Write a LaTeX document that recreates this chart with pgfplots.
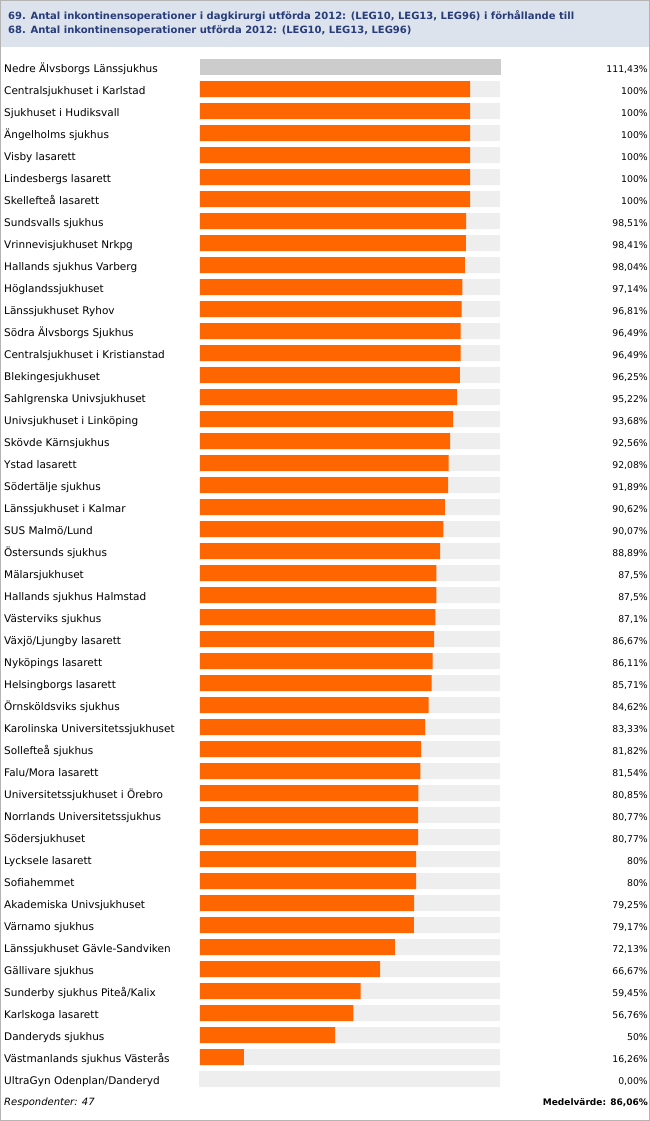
\documentclass[border=0pt]{standalone}
\usepackage{pgfplots}
\pgfplotsset{compat=1.18}
\usepackage{fontspec}
\setmainfont{DejaVu Sans}
\definecolor{hdr}{HTML}{DCE3ED}
\definecolor{ttl}{HTML}{283C7A}
\definecolor{frm}{HTML}{B4B4B4}
\definecolor{trk}{HTML}{EEEEEE}
\definecolor{gbar}{HTML}{CCCCCC}
\definecolor{obar}{HTML}{FF6600}
\begin{document}
\begin{tikzpicture}[x=1pt,y=1pt]
\useasboundingbox (0,0) rectangle (650,-1121);
\fill[hdr] (0,0) rectangle (650,-47);
\draw[frm] (0.5,-0.5) rectangle (649.5,-1120.5);
\node[anchor=base west, inner sep=0pt, text=ttl, font=\bfseries\fontsize{10}{12}\selectfont] at (8,-19.5) {69. Antal inkontinensoperationer i dagkirurgi utförda 2012: (LEG10, LEG13, LEG96) i förhållande till};
\node[anchor=base west, inner sep=0pt, text=ttl, font=\bfseries\fontsize{10}{12}\selectfont] at (8,-33.5) {68. Antal inkontinensoperationer utförda 2012: (LEG10, LEG13, LEG96)};
\node[anchor=base west, inner sep=0pt, font=\itshape\fontsize{10}{12}\selectfont] at (4,-1105.5) {Respondenter: 47};
\node[anchor=base east, inner sep=0pt, font=\bfseries\fontsize{9}{11}\selectfont] at (648,-1105.5) {Medelvärde: 86,06\%};
\begin{axis}[at={(200pt,-1090pt)}, anchor=south west, scale only axis,
  width=301pt, height=1034pt, xmin=0, xmax=111.43, ymin=-0.5, ymax=46.5,
  y dir=reverse, axis line style={draw=none}, major tick length=0pt,
  xtick=\empty, ytick={0,...,46}, clip=false,
  yticklabels={Nedre Älvsborgs Länssjukhus, Centralsjukhuset i Karlstad, Sjukhuset i Hudiksvall, Ängelholms sjukhus, Visby lasarett, Lindesbergs lasarett, Skellefteå lasarett, Sundsvalls sjukhus, Vrinnevisjukhuset Nrkpg, Hallands sjukhus Varberg, Höglandssjukhuset, Länssjukhuset Ryhov, Södra Älvsborgs Sjukhus, Centralsjukhuset i Kristianstad, Blekingesjukhuset, Sahlgrenska Univsjukhuset, Univsjukhuset i Linköping, Skövde Kärnsjukhus, Ystad lasarett, Södertälje sjukhus, Länssjukhuset i Kalmar, SUS Malmö/Lund, Östersunds sjukhus, Mälarsjukhuset, Hallands sjukhus Halmstad, Västerviks sjukhus, Växjö/Ljungby lasarett, Nyköpings lasarett, Helsingborgs lasarett, Örnsköldsviks sjukhus, Karolinska Universitetssjukhuset, Sollefteå sjukhus, Falu/Mora lasarett, Universitetssjukhuset i Örebro, Norrlands Universitetssjukhus, Södersjukhuset, Lycksele lasarett, Sofiahemmet, Akademiska Univsjukhuset, Värnamo sjukhus, Länssjukhuset Gävle-Sandviken, Gällivare sjukhus, Sunderby sjukhus Piteå/Kalix, Karlskoga lasarett, Danderyds sjukhus, Västmanlands sjukhus Västerås, UltraGyn Odenplan/Danderyd},
  yticklabel style={anchor=base west, inner sep=0pt, xshift=-196pt, yshift=-5.5pt, font=\fontsize{10.5}{12}\selectfont},
]
\addplot[xbar, bar width=16pt, bar shift=0pt, fill=gbar, draw=none] coordinates {(111.43,0)};
\addplot[xbar, bar width=16pt, bar shift=0pt, fill=trk, draw=none] coordinates {
(111.06,1)(111.06,2)(111.06,3)(111.06,4)(111.06,5)(111.06,6)(111.06,7)(111.06,8)(111.06,9)(111.06,10)
(111.06,11)(111.06,12)(111.06,13)(111.06,14)(111.06,15)(111.06,16)(111.06,17)(111.06,18)(111.06,19)(111.06,20)
(111.06,21)(111.06,22)(111.06,23)(111.06,24)(111.06,25)(111.06,26)(111.06,27)(111.06,28)(111.06,29)(111.06,30)
(111.06,31)(111.06,32)(111.06,33)(111.06,34)(111.06,35)(111.06,36)(111.06,37)(111.06,38)(111.06,39)(111.06,40)
(111.06,41)(111.06,42)(111.06,43)(111.06,44)(111.06,45)(111.06,46)};
\addplot[xbar, bar width=16pt, bar shift=0pt, fill=obar, draw=none] coordinates {
(100,1)(100,2)(100,3)(100,4)(100,5)(100,6)(98.51,7)(98.41,8)(98.04,9)(97.14,10)
(96.81,11)(96.49,12)(96.49,13)(96.25,14)(95.22,15)(93.68,16)(92.56,17)(92.08,18)(91.89,19)(90.62,20)
(90.07,21)(88.89,22)(87.5,23)(87.5,24)(87.1,25)(86.67,26)(86.11,27)(85.71,28)(84.62,29)(83.33,30)
(81.82,31)(81.54,32)(80.85,33)(80.77,34)(80.77,35)(80,36)(80,37)(79.25,38)(79.17,39)(72.13,40)
(66.67,41)(59.45,42)(56.76,43)(50,44)(16.26,45)(0,46)};
\end{axis}
\begin{axis}[at={(200pt,-1090pt)}, anchor=south west, scale only axis,
  width=301pt, height=1034pt, xmin=0, xmax=111.43, ymin=-0.5, ymax=46.5,
  y dir=reverse, axis line style={draw=none}, major tick length=0pt,
  xtick=\empty, ytick={0,...,46}, yticklabel pos=right,
  yticklabels={111{,}43\%, 100\%, 100\%, 100\%, 100\%, 100\%, 100\%, 98{,}51\%, 98{,}41\%, 98{,}04\%, 97{,}14\%, 96{,}81\%, 96{,}49\%, 96{,}49\%, 96{,}25\%, 95{,}22\%, 93{,}68\%, 92{,}56\%, 92{,}08\%, 91{,}89\%, 90{,}62\%, 90{,}07\%, 88{,}89\%, 87{,}5\%, 87{,}5\%, 87{,}1\%, 86{,}67\%, 86{,}11\%, 85{,}71\%, 84{,}62\%, 83{,}33\%, 81{,}82\%, 81{,}54\%, 80{,}85\%, 80{,}77\%, 80{,}77\%, 80\%, 80\%, 79{,}25\%, 79{,}17\%, 72{,}13\%, 66{,}67\%, 59{,}45\%, 56{,}76\%, 50\%, 16{,}26\%, 0{,}00\%},
  yticklabel style={anchor=base east, inner sep=0pt, xshift=147pt, yshift=-5.5pt, font=\fontsize{9.3}{11}\selectfont},
]
\addplot[draw=none, forget plot] coordinates {(0,0)};
\end{axis}
\end{tikzpicture}
\end{document}
